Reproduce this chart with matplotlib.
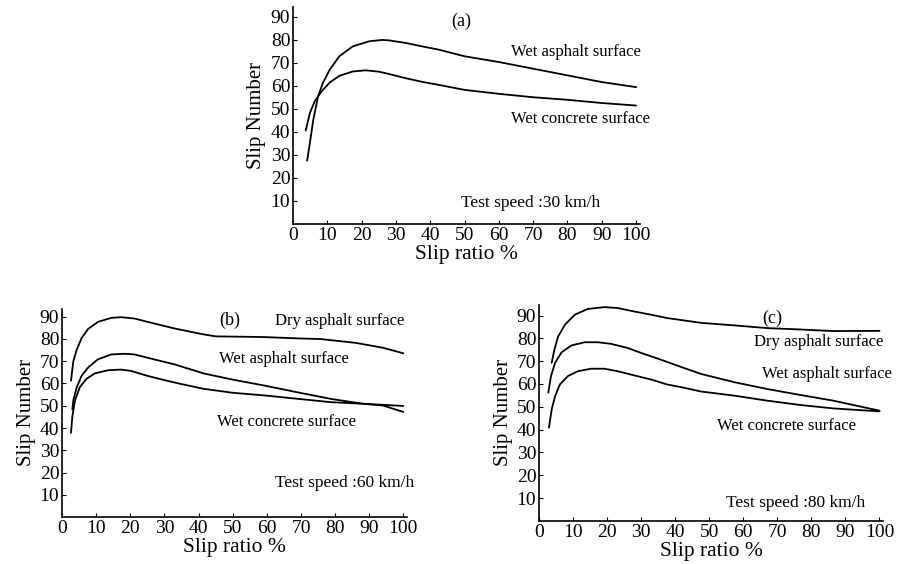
import matplotlib
matplotlib.use("Agg")
import matplotlib.pyplot as plt

plt.rcParams['font.family'] = ['Liberation Serif', 'DejaVu Serif']

# ---- Panel (a): 30 km/h ----
a_asph_x = [4.1, 4.9, 5.9, 7.3, 8.7, 10.7, 13.5, 17.4, 22.2, 26.0, 28.0, 32.8, 37.6, 42.4,
            50.0, 60.0, 70.0, 80.0, 90.0, 100.0]
a_asph_y = [27.5, 35.0, 45.2, 55.4, 61.2, 67.0, 72.8, 77.1, 79.3, 79.9, 79.7, 78.6, 77.1, 75.7,
            72.8, 70.3, 67.4, 64.5, 61.6, 59.4]
a_conc_x = [3.7, 4.9, 6.3, 8.3, 10.7, 13.5, 17.4, 21.2, 25.1, 28.0, 32.8, 37.6, 42.4,
            50.0, 60.0, 70.0, 80.0, 90.0, 100.0]
a_conc_y = [40.6, 48.1, 53.2, 57.5, 61.4, 64.3, 66.2, 66.7, 66.1, 65.1, 63.3, 61.7, 60.4,
            58.2, 56.5, 55.0, 53.9, 52.5, 51.4]

# ---- Panel (b): 60 km/h ----
b_dry_x = [2.6, 3.3, 4.3, 5.7, 7.6, 10.5, 14.4, 17.3, 21.2, 26.9, 32.8, 38.5, 41.4,
           45.0, 50.0, 59.0, 69.0, 75.7, 86.0, 94.0, 100.0]
b_dry_y = [61.2, 70.0, 75.2, 80.3, 84.4, 87.6, 89.4, 89.7, 89.1, 86.9, 84.7, 82.9, 82.0,
           81.1, 81.0, 80.8, 80.2, 79.9, 78.2, 76.0, 73.5]
b_wasph_x = [3.0, 3.3, 4.3, 5.7, 7.6, 10.5, 14.4, 18.3, 21.2, 26.9, 32.8, 38.5, 41.4,
             50.0, 59.4, 69.0, 78.6, 88.0, 94.0, 100.0]
b_wasph_y = [48.4, 52.5, 58.3, 63.4, 67.1, 70.8, 73.0, 73.3, 73.0, 70.8, 68.6, 65.9, 64.5,
             61.7, 59.0, 56.0, 53.1, 50.9, 50.1, 47.2]
b_conc_x = [2.6, 3.0, 3.8, 5.2, 7.1, 9.6, 13.4, 17.3, 20.2, 25.0, 29.9, 34.7, 41.4,
            50.0, 59.4, 69.0, 78.6, 88.0, 94.0, 100.0]
b_conc_y = [37.8, 45.1, 52.5, 58.3, 62.0, 64.5, 65.9, 66.2, 65.6, 63.4, 61.5, 59.8, 57.6,
            55.8, 54.6, 53.1, 51.6, 50.9, 50.4, 49.9]

# ---- Panel (c): 80 km/h ----
c_dry_x = [3.7, 4.5, 5.6, 7.6, 10.5, 14.3, 19.2, 23.1, 27.9, 32.8, 37.6, 42.4,
           47.6, 57.3, 67.0, 76.7, 86.4, 100.0]
c_dry_y = [69.3, 75.1, 80.9, 86.0, 90.4, 92.9, 93.7, 93.3, 91.8, 90.4, 88.9, 87.9,
           86.8, 85.7, 84.5, 83.9, 83.2, 83.3]
c_wasph_x = [2.7, 3.5, 4.7, 6.6, 9.5, 13.4, 17.3, 21.1, 26.0, 29.8, 35.7, 42.4,
             47.6, 57.3, 67.0, 76.7, 86.4, 100.0]
c_wasph_y = [56.2, 63.5, 69.3, 73.9, 76.9, 78.3, 78.3, 77.6, 75.8, 73.7, 70.7, 67.1,
             64.4, 60.8, 57.8, 55.2, 52.7, 48.3]
c_conc_x = [2.9, 3.7, 4.7, 6.1, 8.5, 11.4, 15.3, 19.2, 23.1, 27.9, 32.8, 37.6, 42.4,
            47.6, 57.3, 67.0, 76.7, 86.4, 100.0]
c_conc_y = [40.9, 48.9, 54.7, 59.8, 63.5, 65.6, 66.7, 66.7, 65.6, 63.8, 62.0, 59.8, 58.4,
            56.7, 54.9, 52.7, 50.8, 49.3, 48.0]

x_ticks = [0, 10, 20, 30, 40, 50, 60, 70, 80, 90, 100]
y_ticks = [10, 20, 30, 40, 50, 60, 70, 80, 90]

fig = plt.figure(figsize=(9, 5.64), dpi=100)

ax_a = fig.add_axes([0.3256, 0.603, 0.385, 0.385])
ax_b = fig.add_axes([0.069, 0.083, 0.383, 0.370])
ax_c = fig.add_axes([0.599, 0.0765, 0.382, 0.383])

def style(ax, ytop):
    ax.set_xlim(0, 101)
    ax.set_ylim(0, ytop)
    for s in ['top', 'right']:
        ax.spines[s].set_visible(False)
    for s in ['left', 'bottom']:
        ax.spines[s].set_linewidth(1.2)
    ax.set_xticks(x_ticks)
    ax.set_yticks(y_ticks)
    ax.tick_params(direction='in', length=3, width=0.8, labelsize=14, pad=2)
    ax.set_xlabel('Slip ratio %', fontsize=15.5, labelpad=1)
    ax.set_ylabel('Slip Number', fontsize=15, labelpad=3)

style(ax_a, 94.3)
style(ax_b, 93.6)
style(ax_c, 94.7)

lw = 1.3
kw = dict(color='black', lw=lw, solid_joinstyle='round', solid_capstyle='round')
tl = 12      # curve label size
ts = 12.5    # test speed size

ax_a.plot(a_asph_x, a_asph_y, **kw)
ax_a.plot(a_conc_x, a_conc_y, **kw)
ax_a.text(49, 87.8, '(a)', fontsize=13, ha='center', va='center')
ax_a.text(63.5, 74.7, 'Wet asphalt surface', fontsize=tl, ha='left', va='center')
ax_a.text(63.5, 45.6, 'Wet concrete surface', fontsize=tl, ha='left', va='center')
ax_a.text(49, 9.2, 'Test speed :30 km/h', fontsize=ts, ha='left', va='center')

ax_b.plot(b_dry_x, b_dry_y, **kw)
ax_b.plot(b_wasph_x, b_wasph_y, **kw)
ax_b.plot(b_conc_x, b_conc_y, **kw)
ax_b.text(45.9, 88.5, '(b)', fontsize=13, ha='left', va='center')
ax_b.text(62.3, 87.8, 'Dry asphalt surface', fontsize=tl, ha='left', va='center')
ax_b.text(45.9, 70.8, 'Wet asphalt surface', fontsize=tl, ha='left', va='center')
ax_b.text(45.4, 42.8, 'Wet concrete surface', fontsize=tl, ha='left', va='center')
ax_b.text(62.3, 15.5, 'Test speed :60 km/h', fontsize=ts, ha='left', va='center')

ax_c.plot(c_dry_x, c_dry_y, **kw)
ax_c.plot(c_wasph_x, c_wasph_y, **kw)
ax_c.plot(c_conc_x, c_conc_y, **kw)
ax_c.text(68.4, 88.6, '(c)', fontsize=13, ha='center', va='center')
ax_c.text(63.1, 78.3, 'Dry asphalt surface', fontsize=tl, ha='left', va='center')
ax_c.text(65.5, 64.4, 'Wet asphalt surface', fontsize=tl, ha='left', va='center')
ax_c.text(52.4, 41.7, 'Wet concrete surface', fontsize=tl, ha='left', va='center')
ax_c.text(54.9, 8.0, 'Test speed :80 km/h', fontsize=ts, ha='left', va='center')

fig.savefig('out.png', dpi=100)
